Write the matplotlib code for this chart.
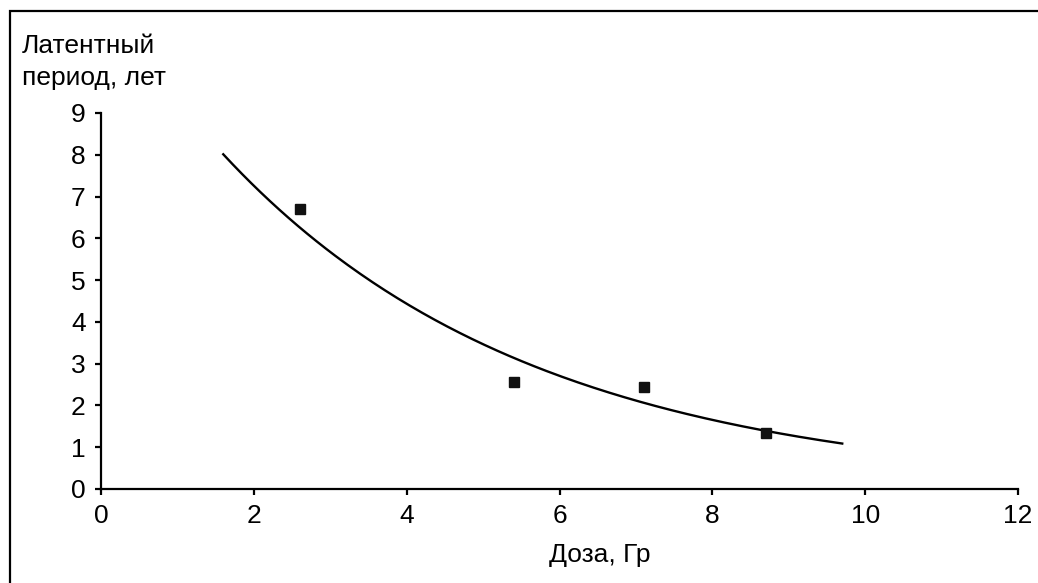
import numpy as np
import matplotlib
matplotlib.use("Agg")
import matplotlib.pyplot as plt
from matplotlib.patches import Rectangle

# measured points
dose = [2.6, 5.4, 7.1, 8.7]
latent = [6.7, 2.55, 2.45, 1.35]
x_ticks = [0, 2, 4, 6, 8, 10, 12]
y_ticks = [0, 1, 2, 3, 4, 5, 6, 7, 8, 9]
trend_range = [1.6, 9.7]

plt.rcParams["font.family"] = ["Liberation Sans", "DejaVu Sans"]
plt.rcParams["font.size"] = 19

fig = plt.figure(figsize=(10.38, 5.83), dpi=100)
fig.patch.set_facecolor("white")
fig.patches.append(Rectangle((10 / 1038, -0.1), 1.2, 1.1 - 11 / 583,
                             transform=fig.transFigure, fill=False,
                             edgecolor="black", linewidth=1.6, zorder=0))

ax = fig.add_axes([101 / 1038, 1 - 489 / 583, (1018 - 101) / 1038, (489 - 113) / 583])

# exponential trend line fitted to the points (like Excel's trendline)
b, lna = np.polyfit(dose, np.log(latent), 1)
xs = np.linspace(trend_range[0], trend_range[1], 200)
ax.plot(xs, np.exp(lna + b * xs), color="black", linewidth=1.7, zorder=2)
ax.plot(dose, latent, linestyle="none", marker="s", markersize=7.5,
        color="#111111", zorder=3)

ax.set_xlim(0, 12)
ax.set_ylim(0, 9)
ax.set_xticks(x_ticks)
ax.set_yticks(y_ticks)
for s in ["top", "right"]:
    ax.spines[s].set_visible(False)
for s in ["left", "bottom"]:
    ax.spines[s].set_linewidth(1.6)
ax.tick_params(direction="out", length=4, width=1.6, labelsize=19)
ax.tick_params(axis="x", pad=7)
ax.tick_params(axis="y", pad=7)

ax.text(6.53, -1.57, "Доза, Гр", ha="center", va="center", fontsize=19,
        transform=ax.transData, clip_on=False)
fig.text(22 / 1038, 1 - 34 / 583, "Латентный\nпериод, лет", ha="left", va="top",
         fontsize=19, linespacing=1.4)

fig.savefig("out.png", dpi=100)
